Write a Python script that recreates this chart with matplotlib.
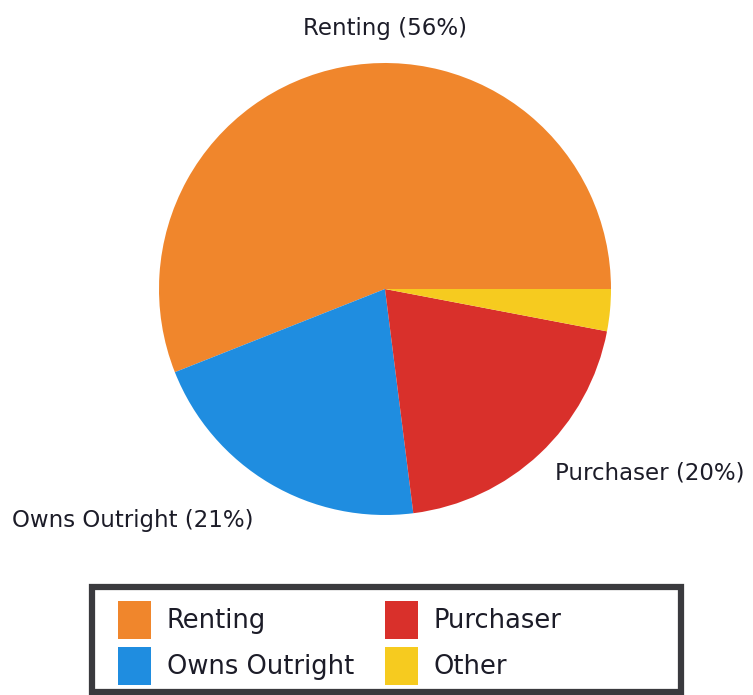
import matplotlib
matplotlib.use("Agg")
import matplotlib.pyplot as plt
from matplotlib.patches import Patch, Rectangle

# data
categories = ["Renting", "Owns Outright", "Purchaser", "Other"]
shares = [56, 21, 20, 3]
colors = ["#F0862C", "#1F8DE0", "#D9302B", "#F6CB1F"]
labelled = ["Renting", "Owns Outright", "Purchaser"]

W, H = 753, 695
TXT = "#1c1c28"

fig = plt.figure(figsize=(W / 100, H / 100), dpi=100)
ax = fig.add_axes([0, 0, 1, 1])

ax.pie(shares, colors=colors, startangle=0, counterclock=True,
       center=(385, H - 289), radius=226,
       wedgeprops=dict(linewidth=0))

# pie() resets the limits, so set the pixel frame afterwards
ax.set_xlim(0, W)
ax.set_ylim(0, H)
ax.set_aspect("equal")
ax.axis("off")

# slice labels (positions in pixels, measured from top)
label_pos = {
    "Renting": (385, 28, "center"),
    "Owns Outright": (12, 520, "left"),
    "Purchaser": (555, 473, "left"),
}
for cat, val in zip(categories, shares):
    if cat not in labelled:
        continue
    x, y, ha = label_pos[cat]
    ax.text(x, H - y, f"{cat} ({val}%)", ha=ha, va="center",
            fontsize=16.5, color=TXT, fontweight="medium")

# legend frame
ax.add_patch(Rectangle((92, H - 692), 589, 105, fill=False,
                       edgecolor="#3a3a3e", linewidth=4.5))

handles = [Patch(facecolor=c, edgecolor="none") for c in colors]
leg = fig.legend(handles, categories, ncol=2, frameon=False,
                 loc="upper left", bbox_to_anchor=(105 / W, 1 - 588 / H),
                 fontsize=18.5, borderpad=0, handlelength=1.3,
                 handleheight=1.9, handletextpad=0.6, labelspacing=0.3,
                 columnspacing=1.2)
for t in leg.get_texts():
    t.set_color(TXT)

fig.savefig("out.png", dpi=100)
